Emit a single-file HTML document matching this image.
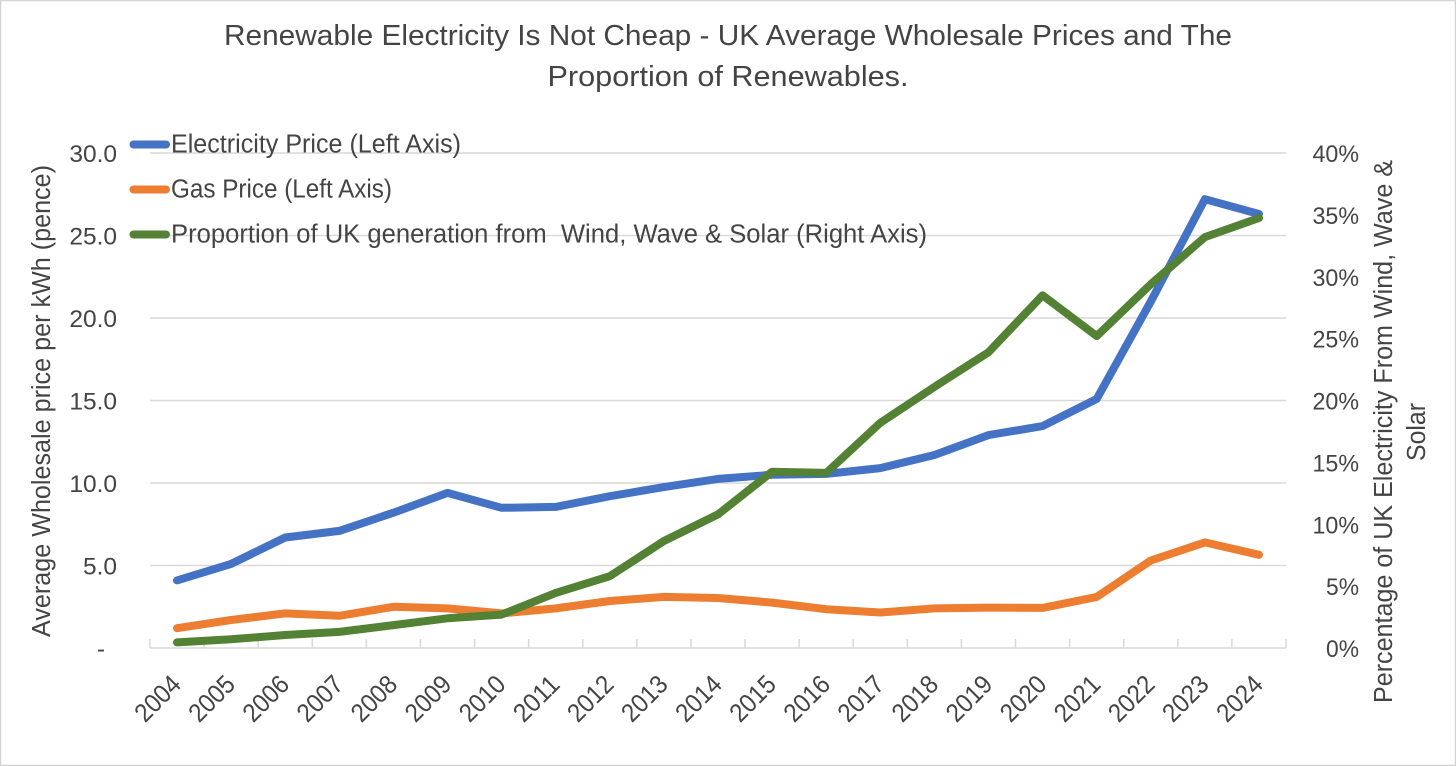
<!DOCTYPE html>
<html lang="en">
<head>
<meta charset="utf-8">
<title>Renewable Electricity Is Not Cheap</title>
<style>
html,body{margin:0;padding:0;background:#fff;}
svg{display:block;}
text{font-family:"Liberation Sans",sans-serif;fill:#444;}
</style>
</head>
<body>
<svg id="chart" xmlns="http://www.w3.org/2000/svg" width="1456" height="766" viewBox="0 0 1456 766">
<rect x="0.5" y="0.5" width="1455" height="765" fill="#fff" stroke="#d4d4d4" stroke-width="1.5"/>
<g font-size="29" text-anchor="middle">
<text x="728" y="45" textLength="1008" lengthAdjust="spacingAndGlyphs">Renewable Electricity Is Not Cheap - UK Average Wholesale Prices and The</text>
<text x="728" y="86" textLength="361" lengthAdjust="spacingAndGlyphs">Proportion of Renewables.</text>
</g>
<g id="grid"></g>
<g id="xaxis"></g>
<g id="yleft"></g>
<g id="yright"></g>
<text transform="translate(50,401) rotate(-90)" font-size="25.5" text-anchor="middle" textLength="472" lengthAdjust="spacingAndGlyphs">Average Wholesale price per kWh (pence)</text>
<text transform="translate(1392,431.5) rotate(-90)" font-size="25.5" text-anchor="middle" textLength="543" lengthAdjust="spacingAndGlyphs">Percentage of UK Electricity From Wind, Wave &amp;</text>
<text transform="translate(1425,432) rotate(-90)" font-size="25.5" text-anchor="middle" textLength="58" lengthAdjust="spacingAndGlyphs">Solar</text>
<g id="series"></g>
<g font-size="25.5">
<g>
<line x1="133.5" y1="144.5" x2="166" y2="144.5" stroke="#4472c4" stroke-width="8" stroke-linecap="round"/>
<text x="171" y="152.5" textLength="290" lengthAdjust="spacingAndGlyphs">Electricity Price (Left Axis)</text>
</g>
<g>
<line x1="133.5" y1="189.5" x2="166" y2="189.5" stroke="#ed7d31" stroke-width="8" stroke-linecap="round"/>
<text x="171" y="197.5" textLength="221" lengthAdjust="spacingAndGlyphs">Gas Price (Left Axis)</text>
</g>
<g>
<line x1="133.5" y1="234.5" x2="166" y2="234.5" stroke="#548235" stroke-width="8" stroke-linecap="round"/>
<text x="171" y="242.5" textLength="756" lengthAdjust="spacingAndGlyphs" xml:space="preserve">Proportion of UK generation from  Wind, Wave &amp; Solar (Right Axis)</text>
</g>
</g>
</svg>
<script>
const years = [2004,2005,2006,2007,2008,2009,2010,2011,2012,2013,2014,2015,2016,2017,2018,2019,2020,2021,2022,2023,2024];
const electricityPrice = [4.1,5.1,6.7,7.1,8.2,9.4,8.5,8.55,9.2,9.75,10.25,10.5,10.55,10.9,11.7,12.9,13.45,15.1,21,27.2,26.3];
const gasPrice = [1.2,1.7,2.1,1.95,2.5,2.4,2.1,2.4,2.85,3.1,3.03,2.75,2.35,2.15,2.4,2.45,2.43,3.1,5.3,6.4,5.65];
const renewableShare = [0.45,0.7,1.05,1.3,1.85,2.4,2.7,4.45,5.8,8.65,10.8,14.25,14.15,18.2,21.1,23.9,28.5,25.2,29.4,33.2,34.75];
const leftTicks = [0,5,10,15,20,25,30];
const leftTickLabels = ['-','5.0','10.0','15.0','20.0','25.0','30.0'];
const rightTicks = [0,5,10,15,20,25,30,35,40];
const leftMax = 30;
const rightMax = 40;

const NS = 'http://www.w3.org/2000/svg';
const plot = {left:150, right:1286, top:153, bottom:648};
const band = (plot.right - plot.left) / years.length;
const xPos = i => plot.left + band * (i + 0.5);
const yLeft = v => plot.bottom - (v / leftMax) * (plot.bottom - plot.top);
const yRight = v => plot.bottom - (v / rightMax) * (plot.bottom - plot.top);

function make(tag, parent, attrs, content) {
  const el = document.createElementNS(NS, tag);
  for (const k in attrs) el.setAttribute(k, attrs[k]);
  if (content !== undefined) el.textContent = content;
  parent.appendChild(el);
  return el;
}

const grid = document.getElementById('grid');
const xaxis = document.getElementById('xaxis');
const yleft = document.getElementById('yleft');
const yright = document.getElementById('yright');
const seriesGroup = document.getElementById('series');

leftTicks.forEach((t, i) => {
  const y = yLeft(t);
  const line = make('line', grid, {x1:plot.left, x2:plot.right, y1:y, y2:y, stroke:'#d9d9d9', 'stroke-width':1.5});
  
  
  const labelX = t === 0 ? 105 : 117;
  const label = make('text', yleft, {x:labelX, y:y + 9, 'font-size':24.5, 'text-anchor':'end'}, leftTickLabels[i]);
  
  
});

rightTicks.forEach(t => {
  const label = make('text', yright, {x:1359, y:yRight(t) + 9, 'font-size':24.5, 'text-anchor':'end', textLength:t < 10 ? 33 : 46.5, lengthAdjust:'spacingAndGlyphs'}, t + '%');
  
  
});

for (let i = 0; i <= years.length; i++) {
  const x = plot.left + band * i;
  const tick = make('line', xaxis, {x1:x, x2:x, y1:plot.bottom - 9, y2:plot.bottom, stroke:'#d9d9d9', 'stroke-width':1.5});
  
  
}

years.forEach((yr, i) => {
  const x = xPos(i) + 5.5;
  const y = 686;
  const label = make('text', xaxis, {x:x, y:y, 'font-size':26, 'text-anchor':'end', textLength:53, lengthAdjust:'spacingAndGlyphs', transform:'rotate(-45 ' + x + ' ' + y + ')'}, yr);
  
  
});

function drawSeries(values, yFn, color, name) {
  const pts = values.map((v, i) => xPos(i).toFixed(1) + ',' + yFn(v).toFixed(1)).join(' ');
  const line = make('polyline', seriesGroup, {points:pts, fill:'none', stroke:color, 'stroke-width':8, 'stroke-linecap':'round', 'stroke-linejoin':'round'});
  
  
}

drawSeries(electricityPrice, yLeft, '#4472c4', 'electricity-price-line');
drawSeries(gasPrice, yLeft, '#ed7d31', 'gas-price-line');
drawSeries(renewableShare, yRight, '#548235', 'renewable-share-line');
</script>
</body>
</html>
